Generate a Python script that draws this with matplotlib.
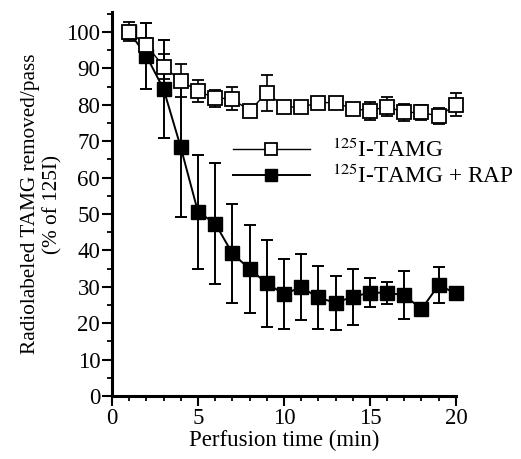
import matplotlib
matplotlib.use("Agg")
import matplotlib.pyplot as plt
from matplotlib.ticker import MultipleLocator
from matplotlib.lines import Line2D

time_min = [1, 2, 3, 4, 5, 6, 7, 8, 9, 10, 11, 12, 13, 14, 15, 16, 17, 18, 19, 20]
tamg = [100.1, 96.4, 90.5, 86.6, 83.8, 81.8, 81.7, 78.3, 83.3, 79.5,
        79.3, 80.6, 80.6, 78.9, 78.4, 79.5, 77.9, 77.9, 76.9, 80.0]
tamg_err = [2.5, 2.0, 3.5, 4.5, 3.0, 2.3, 3.2, 1.5, 4.9, 1.5,
            1.0, 1.0, 1.0, 1.0, 2.5, 2.7, 2.3, 2.0, 2.3, 3.2]
tamg_rap = [100.0, 93.4, 84.3, 68.3, 50.6, 47.4, 39.2, 34.9, 31.0, 28.0,
            29.9, 27.1, 25.6, 27.3, 28.4, 28.4, 27.7, 23.9, 30.5, 28.2]
tamg_rap_err = [1.5, 9.0, 13.5, 19.0, 15.6, 16.6, 13.5, 12.2, 12.0, 9.7,
                9.0, 8.6, 7.4, 7.7, 4.0, 3.0, 6.6, 1.0, 4.9, 1.0]

labels = [r"$^{125}$I-TAMG", r"$^{125}$I-TAMG + RAP"]
xlabel = "Perfusion time (min)"
ylabel = "Radiolabeled TAMG removed/pass\n(% of 125I)"

plt.rcParams["font.family"] = ["Liberation Serif", "DejaVu Serif"]
plt.rcParams["mathtext.fontset"] = "stix"

fig = plt.figure(figsize=(5.21, 4.59), dpi=100)
ax = fig.add_axes([0.215, 0.137, 0.66, 0.837])

for art in [ax.errorbar(time_min, tamg_rap, yerr=tamg_rap_err, color="black", lw=1.4,
                        marker="s", ms=9.5, mfc="black", mec="black",
                        elinewidth=1.4, capsize=4.5, capthick=1.4, zorder=2),
            ax.errorbar(time_min, tamg, yerr=tamg_err, color="black", lw=1.0,
                        marker="s", ms=9.5, mfc="white", mec="black", mew=1.3,
                        elinewidth=1.2, capsize=4.5, capthick=1.2, zorder=3)]:
    for child in art.get_children():
        child.set_clip_on(False)

ax.set_xlim(0, 20)
ax.set_ylim(0, 105.5)
ax.xaxis.set_major_locator(MultipleLocator(5))
ax.xaxis.set_minor_locator(MultipleLocator(1))
ax.yaxis.set_major_locator(MultipleLocator(10))
ax.yaxis.set_minor_locator(MultipleLocator(5))
for s in ["top", "right"]:
    ax.spines[s].set_visible(False)
for s in ["left", "bottom"]:
    ax.spines[s].set_linewidth(2.2)
ax.tick_params(which="major", direction="out", length=7, width=1.5, labelsize=16.5, pad=1.5)
ax.tick_params(which="minor", direction="out", length=3.5, width=1.3)
ax.set_xlabel(xlabel, fontsize=16.5, labelpad=1)
ax.set_ylabel(ylabel, fontsize=15.3, labelpad=3)

handles = [Line2D([], [], color="black", lw=1.0, marker="s", ms=8.5, mfc="white",
                  mec="black", mew=1.3),
           Line2D([], [], color="black", lw=1.4, marker="s", ms=8.5, mfc="black",
                  mec="black")]
ax.legend(handles, labels, loc="upper left", bbox_to_anchor=(0.29, 0.727),
          frameon=False, fontsize=16.8, handlelength=3.3, handletextpad=0.95,
          labelspacing=0.12)

fig.savefig("out.png", dpi=100)
